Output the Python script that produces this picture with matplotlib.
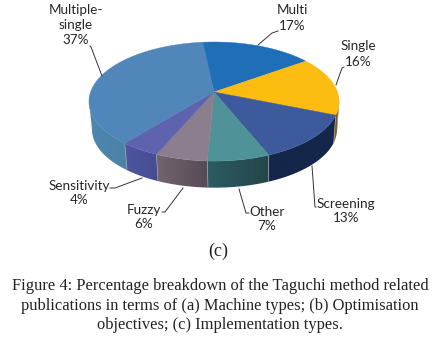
import numpy as np
import matplotlib
matplotlib.use("Agg")
import matplotlib.pyplot as plt
from matplotlib.patches import Polygon
from matplotlib.colors import LinearSegmentedColormap

categories = ["Multi", "Single", "Screening", "Other", "Fuzzy", "Sensitivity", "Multiple-\nsingle"]
values = [16.9, 16.0, 12.7, 6.9, 5.8, 4.4, 37.4]
top_colors = ["#1f6fb8", "#fdbd10", "#3c5a9c", "#4f9298", "#8b7f8e", "#5f62ae", "#5086ba"]
side_left = ["#0e3a68", "#8a6608", "#14264a", "#2c5c62", "#73656f", "#4d569e", "#4f86ae"]
side_right = ["#0e3a68", "#6a4e06", "#14264a", "#24454a", "#554a55", "#464c92", "#4a82a8"]
label_pos = [(292, 18), (358, 54), (346, 211), (267, 219), (144, 217), (79, 193), (76, 25)]
leaders = [((258, 45), (272, 33), (278, 31)), ((336, 85), (342, 68), (344, 67)),
           ((312, 166), (315, 207), (316, 207)), ((239, 189), (246, 213), (249, 213)),
           ((183, 188), (165, 212), (162, 212)), ((142, 178), (115, 188), (110, 188)),
           ((102, 76), (91, 47), (90, 46))]

W, H = 439, 343
fig = plt.figure(figsize=(W / 100, H / 100), dpi=100, facecolor="white")
ax = fig.add_axes([0, 0, 1, 1])
ax.axis("off")

CX, CY = 214.0, 92.0
A, B, K = 123.4, 58.0, 0.16
DEPTH, SCALE = 28.0, 0.98
START = -6.4

def rim(theta, depth=False):
    t = np.radians(theta)
    x, y = np.sin(t), np.cos(t)
    d = 1 + K * y
    sx, sy = A * x / d, -B * y / d
    if depth:
        return CX + 0.5 + SCALE * sx, CY + DEPTH + SCALE * sy
    return CX + sx, CY + sy

edges = START + np.concatenate([[0], np.cumsum(values)]) * 3.6
LO, HI = 99.0, 261.0

# side wall: gradient images clipped to each visible slice
for i in range(len(values)):
    a, b = max(edges[i], LO), min(edges[i + 1], HI)
    if i == len(values) - 1:
        a, b = edges[i], HI
    if a >= b:
        continue
    th = np.linspace(a, b, 80)
    tx, ty = rim(th)
    bx, by = rim(th[::-1], True)
    pts = np.column_stack([np.r_[tx, bx], np.r_[ty, by]])
    cmap = LinearSegmentedColormap.from_list("w", [side_left[i], side_right[i]])
    x0, x1 = pts[:, 0].min(), pts[:, 0].max()
    y0, y1 = pts[:, 1].min(), pts[:, 1].max()
    im = ax.imshow(np.linspace(0, 1, 64)[None, :], cmap=cmap, extent=(x0, x1, y1, y0),
                   aspect="auto", zorder=2, interpolation="bilinear")
    im.set_clip_path(Polygon(pts, closed=True, transform=ax.transData))
    ax.plot([tx[0], bx[-1]], [ty[0], by[-1]], color="#9aa4ac", lw=0.5, zorder=2.5)

# top face
for i in range(len(values)):
    th = np.linspace(edges[i], edges[i + 1], 120)
    xs, ys = rim(th)
    pts = np.column_stack([np.r_[CX, xs], np.r_[CY, ys]])
    ax.add_patch(Polygon(pts, closed=True, facecolor=top_colors[i], edgecolor=top_colors[i],
                         linewidth=0.3, zorder=3))

for name, val, (lx, ly), pts in zip(categories, values, label_pos, leaders):
    ax.text(lx, ly, f"{name}\n{round(val)}%", ha="center", va="center", fontsize=9.7,
            family="Lato", color="#262626", linespacing=1.3, zorder=5)
    ax.plot([p[0] for p in pts], [p[1] for p in pts], color="#333333", lw=0.7, zorder=4)

ax.set_xlim(0, W)
ax.set_ylim(H, 0)

ax.text(218, 251, "(c)", ha="center", va="center", fontsize=13, family="Liberation Serif", color="#222222")
caption = ("Figure 4: Percentage breakdown of the Taguchi method related\n"
           "publications in terms of (a) Machine types; (b) Optimisation\n"
           "objectives; (c) Implementation types.")
ax.text(220, 305.5, caption, ha="center", va="center", fontsize=11.85, family="Liberation Serif",
        color="#222222", linespacing=1.31)
fig.savefig("out.png", dpi=100, facecolor="white")
